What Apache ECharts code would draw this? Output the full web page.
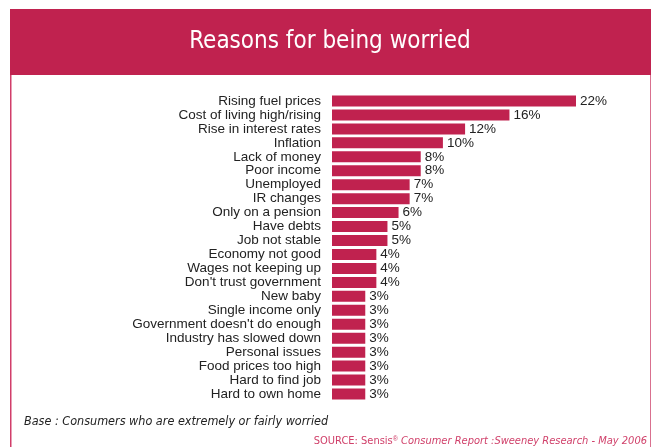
<!DOCTYPE html>
<html>
<head>
<meta charset="utf-8">
<script src="https://cdn.jsdelivr.net/npm/echarts@6/dist/echarts.min.js"></script>
<style>
  html, body { margin: 0; padding: 0; background: #fff; }
  #chart { width: 656px; height: 447px; }
</style>
</head>
<body>
<div id="chart"></div>
<script>
// Reasons consumers gave for being worried (% of respondents)
const categories = [
  'Rising fuel prices',
  'Cost of living high/rising',
  'Rise in interest rates',
  'Inflation',
  'Lack of money',
  'Poor income',
  'Unemployed',
  'IR changes',
  'Only on a pension',
  'Have debts',
  'Job not stable',
  'Economy not good',
  'Wages not keeping up',
  "Don't trust government",
  'New baby',
  'Single income only',
  "Government doesn't do enough",
  'Industry has slowed down',
  'Personal issues',
  'Food prices too high',
  'Hard to find job',
  'Hard to own home'
];
const percentages = [22, 16, 12, 10, 8, 8, 7, 7, 6, 5, 5, 4, 4, 4, 3, 3, 3, 3, 3, 3, 3, 3];

const title = 'Reasons for being worried';
const baseNote = 'Base : Consumers who are extremely or fairly worried';

const BRAND = '#C0224F';

const chart = echarts.init(document.getElementById('chart'), null, { renderer: 'canvas' });

chart.setOption({
  animation: false,
  backgroundColor: '#fff',
  grid: { left: 332, right: 80, top: 94, bottom: 46 },
  xAxis: {
    type: 'value',
    min: 0,
    max: 22,
    show: false
  },
  yAxis: {
    type: 'category',
    data: categories,
    inverse: true,
    axisLine: { show: false },
    axisTick: { show: false },
    axisLabel: {
      interval: 0,
      margin: 11,
      color: '#222',
      fontFamily: 'Liberation Sans, Arial, sans-serif',
      fontSize: 13.5
    }
  },
  series: [{
    type: 'bar',
    data: percentages,
    barWidth: 11,
    itemStyle: { color: BRAND },
    label: {
      show: true,
      position: 'right',
      distance: 4,
      formatter: p => p.value + '%',
      color: '#222',
      fontFamily: 'Liberation Sans, Arial, sans-serif',
      fontSize: 13.5
    }
  }],
  graphic: [
    // header band
    { type: 'rect', left: 10, top: 9, shape: { width: 641, height: 66 }, style: { fill: BRAND }, z: 0 },
    {
      type: 'text', x: 330, y: 42, z: 2,
      style: {
        text: title, fill: '#fff',
        font: '24px "DejaVu Sans Condensed", "Liberation Sans Narrow", sans-serif',
        textAlign: 'center', textVerticalAlign: 'middle'
      }
    },
    // side frame lines
    { type: 'line', shape: { x1: 10.75, y1: 75, x2: 10.75, y2: 447 }, style: { stroke: '#D13E6A', lineWidth: 1.5 } },
    { type: 'line', shape: { x1: 650.5, y1: 75, x2: 650.5, y2: 447 }, style: { stroke: '#D9708F', lineWidth: 1 } },
    // footnotes
    {
      type: 'text', x: 24, y: 422,
      style: {
        text: baseNote, fill: '#222',
        font: 'italic 12.5px "DejaVu Sans Condensed", "Liberation Sans Narrow", sans-serif',
        textVerticalAlign: 'middle'
      }
    },
    {
      type: 'text', x: 647, y: 441,
      style: {
        text: '{n|SOURCE: Sensis}{s|®}{i| Consumer Report :Sweeney Research - May 2006}',
        textAlign: 'right', textVerticalAlign: 'middle',
        rich: {
          n: { fill: '#D0406A', font: '11px "DejaVu Sans Condensed", "Liberation Sans Narrow", sans-serif' },
          s: { fill: '#D0406A', font: '7px "Liberation Sans", sans-serif', verticalAlign: 'top' },
          i: { fill: '#D0406A', font: 'italic 11px "DejaVu Sans Condensed", "Liberation Sans Narrow", sans-serif' }
        }
      }
    }
  ]
});
</script>
</body>
</html>
